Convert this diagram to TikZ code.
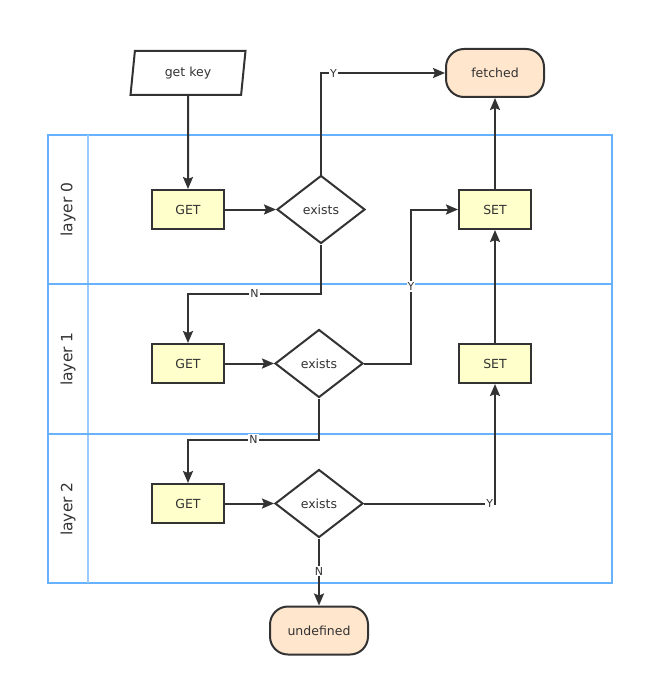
\documentclass[tikz,border=0pt]{standalone}
\usepackage{fontspec}
\setmainfont{DejaVu Sans}
\usepackage{tikz}
\usetikzlibrary{positioning}
\usetikzlibrary{shapes.geometric}
\usetikzlibrary{arrows.meta}

\definecolor{ink}{HTML}{333333}
\definecolor{lane}{HTML}{9CCCFF}
\definecolor{lanedark}{HTML}{66B2FF}
\definecolor{procfill}{HTML}{FFFFCC}
\definecolor{termfill}{HTML}{FFE6CC}

\begin{document}
\begin{tikzpicture}[x=1pt, y=-1pt, color=ink, font=\fontsize{12.5}{14}\selectfont,
    proc/.style={draw=ink, line width=2pt, fill=procfill, minimum width=72pt, minimum height=39pt, inner sep=0pt},
    cond/.style={draw=ink, line width=2pt, fill=white, diamond, aspect=1.29, minimum width=88pt, minimum height=68pt, inner sep=0pt},
    term/.style={draw=ink, line width=2pt, fill=termfill, rounded corners=18pt, minimum width=98pt, minimum height=48pt},
    io/.style={draw=ink, line width=2pt, trapezium, trapezium left angle=70, trapezium right angle=110, trapezium stretches body, minimum width=115pt, minimum height=44pt, inner sep=0pt},
    flow/.style={draw=ink, line width=2pt, -{Stealth[length=12pt, width=10pt, inset=2pt]}},
    lbl/.style={fill=white, inner sep=1pt, font=\fontsize{11}{12}\selectfont}]

    \useasboundingbox (0,0) rectangle (645,687);

    \draw[lanedark, line width=1.3pt] (48,135) rectangle (612,583);
    \draw[lane, line width=1.3pt] (88,135) -- (88,583);
    \draw[lanedark, line width=1.6pt] (48,284) -- (612,284);
    \draw[lanedark, line width=1.6pt] (48,434) -- (612,434);

    \node[rotate=90, font=\fontsize{15.5}{17}\selectfont] (lay0) at (68,209.5) {layer 0};
    \node[rotate=90, font=\fontsize{15.5}{17}\selectfont] (lay1) at (68,359) {layer 1};
    \node[rotate=90, font=\fontsize{15.5}{17}\selectfont] (lay2) at (68,509) {layer 2};

    \node[proc] (get0) at (188,209.5) {GET};
    \node[cond, right=51pt of get0] (ex0) {exists};
    \node[proc, right=92pt of ex0] (set0) {SET};
    \node[term, above=91pt of set0] (done) {fetched};
    \node[io, above=93pt of get0] (key) {get key};

    \node[proc, below=113pt of get0] (get1) {GET};
    \node[cond, right=49pt of get1] (ex1) {exists};
    \node[proc, below=113pt of set0] (set1) {SET};

    \node[proc, below=99pt of get1] (get2) {GET};
    \node[cond, right=49pt of get2] (ex2) {exists};
    \node[term, below=67pt of ex2] (undef) {undefined};

    \draw[flow] (key) -- (get0);
    \draw[flow] (get0) -- (ex0);
    \draw[flow] (ex0.north) |- node[lbl, pos=0.55] {Y} (done.west);
    \draw[flow] (ex0.south) -- ++(0,49) -| node[lbl, pos=0.25] {N} (get1.north);
    \draw[flow] (set0) -- (done);

    \draw[flow] (get1) -- (ex1);
    \draw[flow] (ex1.east) -- ++(47,0) |- node[lbl, pos=0.25] {Y} (set0.west);
    \draw[flow] (ex1.south) -- ++(0,41) -| node[lbl, pos=0.25] {N} (get2.north);
    \draw[flow] (set1) -- (set0);

    \draw[flow] (get2) -- (ex2);
    \draw[flow] (ex2.east) -| node[lbl, pos=0.48] {Y} (set1.south);
    \draw[flow] (ex2) -- node[lbl, pos=0.49] {N} (undef);

\end{tikzpicture}
\end{document}
